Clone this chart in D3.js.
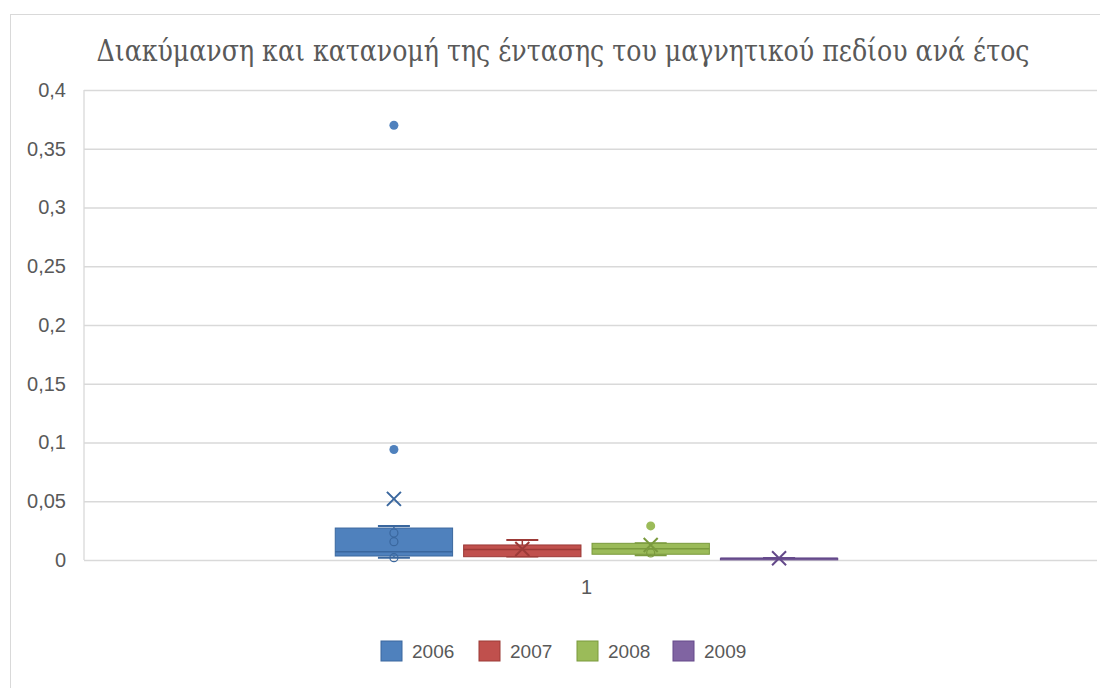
<!DOCTYPE html>
<html>
<head>
<meta charset="utf-8">
<script src="https://cdn.jsdelivr.net/npm/d3@7"></script>
<style>
  body { margin: 0; background: #fff; }
  svg { display: block; }
</style>
</head>
<body>
<div id="chart-area"></div>
<script>
// data
const title = "Διακύμανση και κατανομή της έντασης του μαγνητικού πεδίου ανά έτος";
const categories = ["1"];
const years = ["2006", "2007", "2008", "2009"];
const colors = ["#4f81bd", "#c0504d", "#9bbb59", "#8064a2"];
const strokes = ["#3a679e", "#9c3a37", "#7a9a3d", "#64498a"];
const whiskerLow = [0.002, 0.003, 0.004, 0.0014];
const q1s = [0.0034, 0.0028, 0.0049, 0.0014];
const medians = [0.007, 0.009, 0.0095, 0.0014];
const q3s = [0.0272, 0.0128, 0.0142, 0.0014];
const whiskerHigh = [0.029, 0.017, 0.0142, 0.0014];
const means = [0.052, 0.0094, 0.0128, 0.0015];
const innerPoints = [[0.023, 0.0156, 0.002], [], [0.006], []];
const outliers = [[0.37, 0.094], [], [0.029], []];
const yTicks = [0, 0.05, 0.1, 0.15, 0.2, 0.25, 0.3, 0.35, 0.4];

const width = 1100, height = 688;
const plot = { left: 84, right: 1097, top: 90, bottom: 560 };

const svg = d3.select("#chart-area").append("svg")
    .attr("width", width)
    .attr("height", height);

// chart frame
svg.append("rect")
    .attr("x", 10.5).attr("y", 14.5)
    .attr("width", 1200).attr("height", 800)
    .attr("fill", "#fff").attr("stroke", "#d9d9d9");

svg.append("text")
    .attr("x", 563).attr("y", 61)
    .attr("text-anchor", "middle")
    .style("font-family", "'DejaVu Serif', serif")
    .style("font-stretch", "condensed")
    .attr("font-size", 30)
    .attr("fill", "#595959")
    .attr("textLength", 933)
    .attr("lengthAdjust", "spacingAndGlyphs")
    .text(title);

const y = d3.scaleLinear().domain([0, 0.4]).range([plot.bottom, plot.top]);
const x0 = d3.scaleBand().domain(categories).range([plot.left, plot.right - 8]).paddingOuter(0.5).paddingInner(0);
const x1 = d3.scaleBand().domain(years).range([0, x0.bandwidth()]).paddingInner(0.086).paddingOuter(0);

const fmt = d => d3.format("~g")(d).replace(".", ",");

// gridlines + y labels
const yAxis = svg.append("g")
    .attr("transform", `translate(${plot.left},0)`)
    .call(d3.axisLeft(y).tickValues(yTicks).tickFormat(fmt).tickSize(-(plot.right - plot.left)).tickPadding(18));
yAxis.select(".domain").remove();
yAxis.selectAll(".tick line").attr("stroke", "#d9d9d9").attr("stroke-width", 1.3);
yAxis.selectAll(".tick text")
    .attr("fill", "#595959")
    .attr("font-family", "'Liberation Sans', Arial, sans-serif")
    .attr("font-size", 20);

// left axis line
svg.append("line")
    .attr("x1", plot.left).attr("x2", plot.left)
    .attr("y1", plot.top).attr("y2", plot.bottom)
    .attr("stroke", "#d9d9d9").attr("stroke-width", 1.3);

// category axis label
const xAxis = svg.append("g")
    .attr("transform", `translate(0,${plot.bottom})`)
    .call(d3.axisBottom(x0).tickSize(0).tickPadding(20));
xAxis.select(".domain").remove();
xAxis.selectAll(".tick text")
    .attr("fill", "#595959")
    .attr("font-family", "'Liberation Sans', Arial, sans-serif")
    .attr("font-size", 20);

// boxes
const groups = svg.append("g").selectAll("g")
    .data(years)
    .join("g")
    .attr("transform", d => `translate(${x0("1") + x1(d)},0)`);

groups.each(function(yr, i) {
    const g = d3.select(this);
    const bw = x1.bandwidth();
    const cx = bw / 2;
    const capW = 32;

    // whiskers
    g.append("line")
        .attr("x1", cx).attr("x2", cx)
        .attr("y1", y(whiskerHigh[i])).attr("y2", y(q3s[i]))
        .attr("stroke", strokes[i]).attr("stroke-width", 1.5);
    g.append("line")
        .attr("x1", cx).attr("x2", cx)
        .attr("y1", y(whiskerLow[i])).attr("y2", y(q1s[i]))
        .attr("stroke", strokes[i]).attr("stroke-width", 1.5);
    [whiskerHigh[i], whiskerLow[i]].forEach(v => {
        g.append("line")
            .attr("x1", cx - capW / 2).attr("x2", cx + capW / 2)
            .attr("y1", y(v)).attr("y2", y(v))
            .attr("stroke", strokes[i]).attr("stroke-width", 2);
    });

    // box
    g.append("rect")
        .attr("x", 0).attr("width", bw)
        .attr("y", y(q3s[i]))
        .attr("height", Math.max(1.5, y(q1s[i]) - y(q3s[i])))
        .attr("fill", colors[i])
        .attr("stroke", strokes[i]).attr("stroke-width", 1);

    // median
    g.append("line")
        .attr("x1", 0).attr("x2", bw)
        .attr("y1", y(medians[i])).attr("y2", y(medians[i]))
        .attr("stroke", strokes[i]).attr("stroke-width", 1.5);

    // inner points
    g.selectAll(".inner")
        .data(innerPoints[i])
        .join("circle")
        .attr("cx", cx).attr("cy", d => y(d))
        .attr("r", 4)
        .attr("fill", "none")
        .attr("stroke", strokes[i]).attr("stroke-width", 1.2);

    // outliers
    g.selectAll(".out")
        .data(outliers[i])
        .join("circle")
        .attr("cx", cx).attr("cy", d => y(d))
        .attr("r", 4.5)
        .attr("fill", colors[i]);

    // mean marker
    const m = y(means[i]), s = 7;
    g.append("path")
        .attr("d", `M${cx - s},${m - s}L${cx + s},${m + s}M${cx - s},${m + s}L${cx + s},${m - s}`)
        .attr("stroke", strokes[i]).attr("stroke-width", 2).attr("fill", "none");
});

// legend
const legendX = [381, 479, 577, 673];
const legend = svg.append("g").selectAll("g")
    .data(years)
    .join("g")
    .attr("transform", (d, i) => `translate(${legendX[i]},641)`);
legend.append("rect")
    .attr("width", 21).attr("height", 20)
    .attr("fill", (d, i) => colors[i])
    .attr("stroke", (d, i) => strokes[i]);
legend.append("text")
    .attr("x", 31).attr("y", 17)
    .attr("fill", "#595959")
    .attr("font-family", "'Liberation Sans', Arial, sans-serif")
    .attr("font-size", 19)
    .text(d => d);
</script>
</body>
</html>
